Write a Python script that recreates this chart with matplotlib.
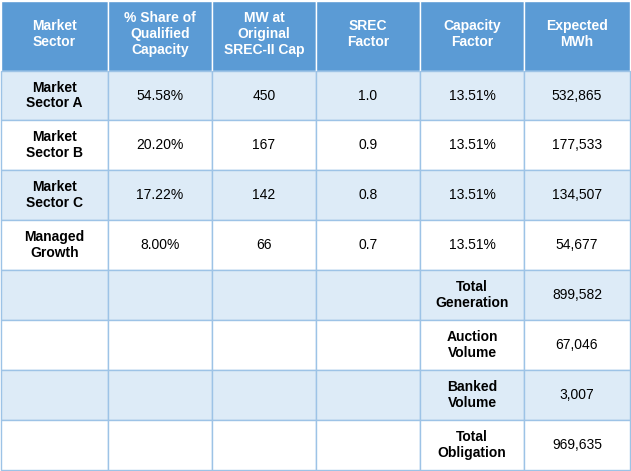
import matplotlib
matplotlib.use("Agg")
import matplotlib.pyplot as plt
from matplotlib.patches import Rectangle

headers = ["Market\nSector", "% Share of\nQualified\nCapacity", "MW at\nOriginal\nSREC-II Cap", "SREC\nFactor", "Capacity\nFactor", "Expected\nMWh"]
sectors = ["Market\nSector A", "Market\nSector B", "Market\nSector C", "Managed\nGrowth", "", "", "", ""]
share = ["54.58%", "20.20%", "17.22%", "8.00%", "", "", "", ""]
mw = ["450", "167", "142", "66", "", "", "", ""]
srec = ["1.0", "0.9", "0.8", "0.7", "", "", "", ""]
capf = ["13.51%", "13.51%", "13.51%", "13.51%", "Total\nGeneration", "Auction\nVolume", "Banked\nVolume", "Total\nObligation"]
mwh = ["532,865", "177,533", "134,507", "54,677", "899,582", "67,046", "3,007", "969,635"]

plt.rcParams['font.family'] = ['Liberation Sans', 'DejaVu Sans']
W, H = 631, 471
fig = plt.figure(figsize=(W/100, H/100), dpi=100)
ax = fig.add_axes([0, 0, 1, 1])
ax.set_xlim(0, W); ax.set_ylim(H, 0); ax.axis('off')

cols = [1, 108, 212, 316, 420, 524, 630]
rows = [1, 71, 120, 170, 220, 270, 320, 370, 420, 470]
cols_data = [sectors, share, mw, srec, capf, mwh]
blue = "#5B9BD5"; light = "#DDEBF7"; edge = "#9DC3E6"

for j in range(6):
    x0, x1 = cols[j], cols[j+1]
    ax.add_patch(Rectangle((x0, rows[0]), x1-x0, rows[1]-rows[0], fc=blue, ec="white", lw=1))
    ax.text((x0+x1)/2, (rows[0]+rows[1])/2 - 2, headers[j], ha='center', va='center',
            color='white', fontweight='bold', fontsize=10, linespacing=1.15)
    for i in range(8):
        y0, y1 = rows[i+1], rows[i+2]
        fc = light if i % 2 == 0 else "white"
        ax.add_patch(Rectangle((x0, y0), x1-x0, y1-y0, fc=fc, ec=edge, lw=1))
        t = cols_data[j][i]
        bold = (j == 0) or (j == 4 and i >= 4)
        ax.text((x0+x1)/2, (y0+y1)/2, t, ha='center', va='center', color='black',
                fontweight='bold' if bold else 'normal', fontsize=10, linespacing=1.15)

fig.savefig("out.png", dpi=100)
